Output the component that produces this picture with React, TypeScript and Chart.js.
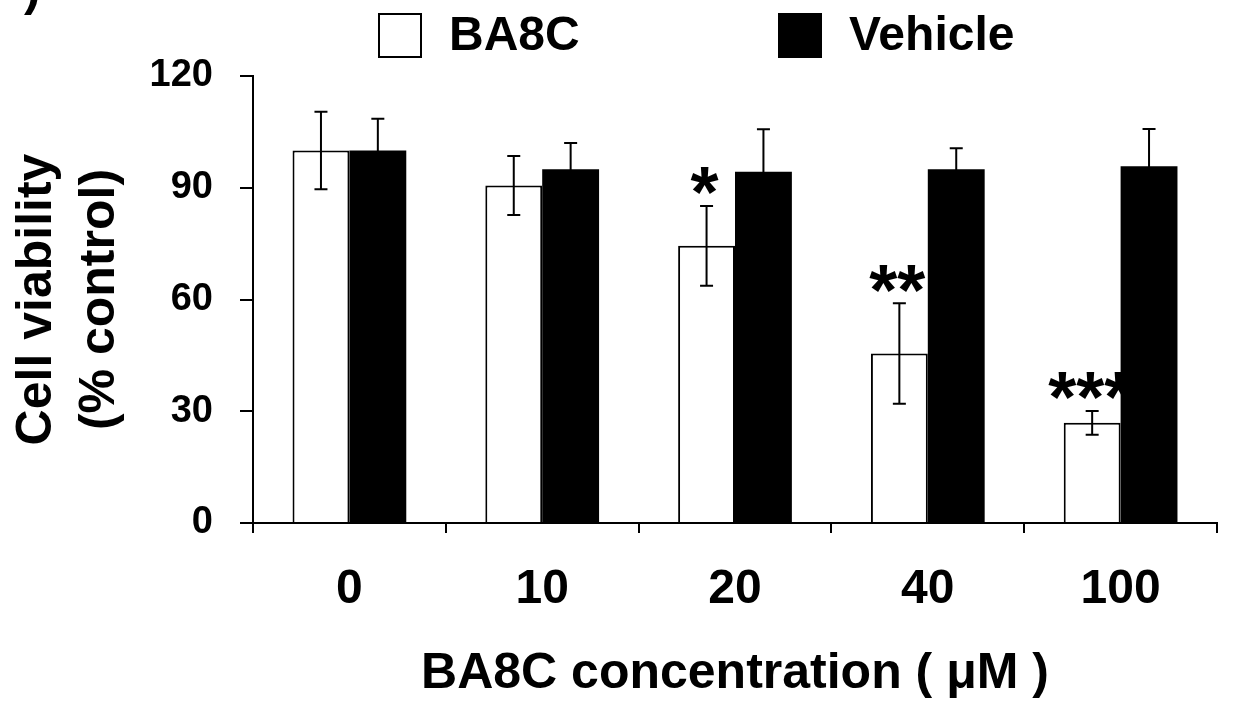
import React, { useEffect, useRef } from "react";
import { Chart, registerables } from "chart.js";

Chart.register(...registerables);

const categories = ["0", "10", "20", "40", "100"];
const ba8cValues = [100, 90.6, 74.4, 45.5, 26.9];
const ba8cErrors = [10.4, 7.9, 10.7, 13.5, 3.2];
const vehicleValues = [100, 95, 94.3, 95, 95.8];
const vehicleErrors = [8.5, 7, 11.4, 5.6, 10];
const significance = ["", "", "*", "**", "***"];
const yTickValues = [0, 30, 60, 90, 120];

const FONT = "'Liberation Sans', Arial, sans-serif";

const errorBarPlugin = {
  id: "errorBars",
  afterDatasetsDraw(chart: any) {
    const ctx = chart.ctx;
    const yScale = chart.scales.y;
    ctx.save();
    ctx.strokeStyle = "#000";
    ctx.lineWidth = 2;
    chart.data.datasets.forEach((ds: any, i: number) => {
      const meta = chart.getDatasetMeta(i);
      const errs: number[] = ds.errors || [];
      meta.data.forEach((bar: any, j: number) => {
        const v = ds.data[j];
        const e = errs[j] || 0;
        const x = bar.x;
        const yTop = yScale.getPixelForValue(v + e);
        const yBot = yScale.getPixelForValue(v - e);
        const cap = 6.5;
        ctx.beginPath();
        ctx.moveTo(x, yTop);
        ctx.lineTo(x, yBot);
        ctx.moveTo(x - cap, yTop);
        ctx.lineTo(x + cap, yTop);
        ctx.moveTo(x - cap, yBot);
        ctx.lineTo(x + cap, yBot);
        ctx.stroke();
        const mark = ds.marks ? ds.marks[j] : "";
        if (mark) {
          const size = 72;
          ctx.fillStyle = "#000";
          ctx.font = `bold ${size}px ${FONT}`;
          ctx.textAlign = "center";
          ctx.textBaseline = "alphabetic";
          const center = yTop - 24;
          ctx.fillText(mark, x - 2, center + 0.49 * size);
        }
      });
    });
    ctx.restore();
  },
};

const legendPlugin = {
  id: "customLegend",
  afterDraw(chart: any) {
    const ctx = chart.ctx;
    const xs = [378, 778];
    ctx.save();
    chart.data.datasets.forEach((ds: any, i: number) => {
      const x = xs[i];
      ctx.fillStyle = ds.backgroundColor;
      ctx.fillRect(x, 13, 44, 45);
      ctx.strokeStyle = "#000";
      ctx.lineWidth = 2;
      ctx.strokeRect(x + 1, 14, 42, 43);
      ctx.fillStyle = "#000";
      ctx.font = `bold 48px ${FONT}`;
      ctx.textAlign = "left";
      ctx.textBaseline = "alphabetic";
      ctx.fillText(ds.label, x + 71, 50);
    });
    // cut-off panel label
    ctx.font = `bold 50px ${FONT}`;
    ctx.fillText(")", 24, 5);
    ctx.restore();
  },
};

export default function App() {
  const ref = useRef<HTMLCanvasElement>(null);

  useEffect(() => {
    if (!ref.current) return;
    const chart = new Chart(ref.current, {
      type: "bar",
      data: {
        labels: categories,
        datasets: [
          {
            label: "BA8C",
            data: ba8cValues,
            backgroundColor: "#ffffff",
            borderColor: "#000000",
            borderWidth: 2,
            borderSkipped: "bottom",
            errors: ba8cErrors,
            marks: significance,
          } as any,
          {
            label: "Vehicle",
            data: vehicleValues,
            backgroundColor: "#000000",
            borderColor: "#000000",
            borderWidth: 0,
            errors: vehicleErrors,
          } as any,
        ],
      },
      options: {
        animation: false,
        responsive: false,
        devicePixelRatio: 1,
        layout: { padding: { top: 76, right: 16, bottom: 0, left: 0 } },
        plugins: {
          legend: { display: false },
          tooltip: { enabled: false },
        },
        datasets: {
          bar: { categoryPercentage: 0.59, barPercentage: 1 },
        },
        scales: {
          x: {
            grid: {
              offset: true,
              drawOnChartArea: false,
              drawTicks: true,
              tickLength: 10,
              color: "#000",
              lineWidth: 2,
            },
            border: { display: true, color: "#000", width: 2 },
            ticks: {
              color: "#000",
              font: { family: FONT, size: 48, weight: "bold" },
              padding: 28,
            },
            title: {
              display: true,
              text: "BA8C concentration ( μM )",
              color: "#000",
              font: { family: FONT, size: 50, weight: "bold" },
              padding: { top: 0, bottom: 2.5 },
            },
            afterFit(scale: any) {
              scale.height = 184;
            },
          },
          y: {
            min: 0,
            max: 120,
            afterBuildTicks(scale: any) {
              scale.ticks = yTickValues.map((v) => ({ value: v }));
            },
            grid: {
              drawOnChartArea: false,
              drawTicks: true,
              tickLength: 13,
              color: "#000",
              lineWidth: 2,
            },
            border: { display: true, color: "#000", width: 2 },
            ticks: {
              color: "#000",
              font: { family: FONT, size: 38, weight: "bold" },
              padding: 27,
            },
            title: {
              display: true,
              text: ["Cell viability", "(% control)"],
              color: "#000",
              font: { family: FONT, size: 50, weight: "bold", lineHeight: 1.26 },
              padding: { top: 6, bottom: 0 },
            },
            afterFit(scale: any) {
              scale.width = 253;
            },
          },
        },
      },
      plugins: [errorBarPlugin, legendPlugin],
    });
    return () => chart.destroy();
  }, []);

  return (
    <div style={{ position: "absolute", left: 0, top: 0, width: 1233, height: 707, background: "#fff" }}>
      <canvas ref={ref} width={1233} height={707} style={{ width: 1233, height: 707, display: "block" }} />
    </div>
  );
}
